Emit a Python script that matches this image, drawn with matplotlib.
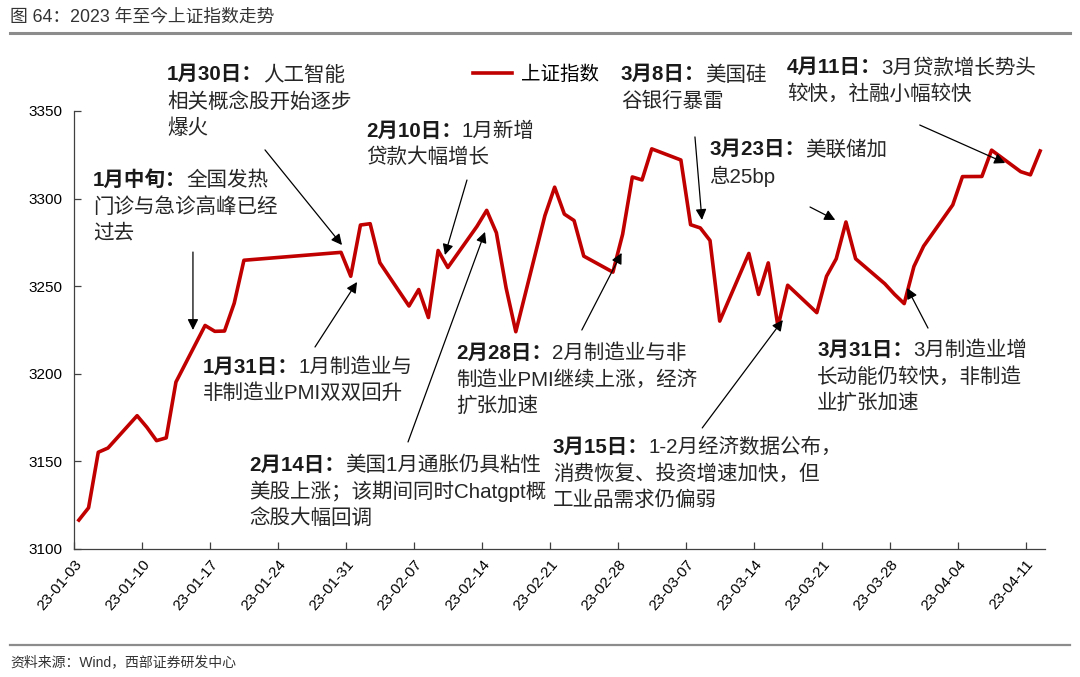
import matplotlib

matplotlib.use('Agg')
import matplotlib.pyplot as plt
from matplotlib.lines import Line2D
import numpy as np
import pandas as pd

plt.rcParams['font.family'] = ['Liberation Sans', 'Noto Sans CJK SC', 'DejaVu Sans']

# 上证指数收盘价
dates = [
    '2023-01-03', '2023-01-04', '2023-01-05', '2023-01-06', '2023-01-09', '2023-01-10',
    '2023-01-11', '2023-01-12', '2023-01-13', '2023-01-16', '2023-01-17', '2023-01-18',
    '2023-01-19', '2023-01-20', '2023-01-30', '2023-01-31',
    '2023-02-01', '2023-02-02', '2023-02-03', '2023-02-06', '2023-02-07', '2023-02-08',
    '2023-02-09', '2023-02-10', '2023-02-13', '2023-02-14', '2023-02-15', '2023-02-16',
    '2023-02-17', '2023-02-20', '2023-02-21', '2023-02-22', '2023-02-23', '2023-02-24',
    '2023-02-27', '2023-02-28',
    '2023-03-01', '2023-03-02', '2023-03-03', '2023-03-06', '2023-03-07', '2023-03-08',
    '2023-03-09', '2023-03-10', '2023-03-13', '2023-03-14', '2023-03-15', '2023-03-16',
    '2023-03-17', '2023-03-20', '2023-03-21', '2023-03-22', '2023-03-23', '2023-03-24',
    '2023-03-27', '2023-03-28', '2023-03-29', '2023-03-30', '2023-03-31',
    '2023-04-03', '2023-04-04', '2023-04-06', '2023-04-07', '2023-04-10', '2023-04-11',
    '2023-04-12',
]
close = [
    3116.51, 3123.52, 3155.22, 3157.64, 3176.08, 3169.51, 3161.84, 3163.45, 3195.31,
    3227.59, 3224.24, 3224.41, 3240.28, 3264.81, 3269.32, 3255.67,
    3284.92, 3285.67, 3263.41, 3238.70, 3248.09, 3232.11, 3270.38, 3260.67, 3284.16,
    3293.28, 3280.49, 3249.03, 3224.02, 3290.34, 3306.52, 3291.15, 3287.48, 3267.16,
    3258.03, 3279.61,
    3312.35, 3310.65, 3328.39, 3322.03, 3285.10, 3283.25, 3276.09, 3230.08, 3268.70,
    3245.31, 3263.31, 3226.89, 3250.55, 3234.91, 3255.65, 3265.65, 3286.65, 3265.65,
    3251.40, 3245.38, 3240.06, 3261.25, 3272.86,
    3296.40, 3312.56, 3312.63, 3327.65, 3315.36, 3313.57, 3327.18,
]

y_ticks = [3100, 3150, 3200, 3250, 3300, 3350]

# 注释：加粗前缀、首行其余文字、后续行
note_head = ['1月中旬：', '1月30日：', '1月31日：', '2月10日：', '2月14日：', '2月28日：',
             '3月8日：', '3月23日：', '3月15日：', '3月31日：', '4月11日：']
note_first = ['全国发热', '人工智能', '1月制造业与', '1月新增', '美国1月通胀仍具粘性',
              '2月制造业与非', '美国硅', '美联储加', '1-2月经济数据公布，',
              '3月制造业增', '3月贷款增长势头']
note_rest = [
    ['门诊与急诊高峰已经', '过去'],
    ['相关概念股开始逐步', '爆火'],
    ['非制造业PMI双双回升'],
    ['贷款大幅增长'],
    ['美股上涨；该期间同时Chatgpt概', '念股大幅回调'],
    ['制造业PMI继续上涨，经济', '扩张加速'],
    ['谷银行暴雷'],
    ['息25bp'],
    ['消费恢复、投资增速加快，但', '工业品需求仍偏弱'],
    ['长动能仍较快，非制造', '业扩张加速'],
    ['较快，社融小幅较快'],
]
# (天数, 指数) 位置
note_text = [(1.96, 3310.6), (9.58, 3370.6), (13.29, 3203.9), (30.07, 3338.6),
             (18.02, 3147.9), (39.34, 3211.9), (56.33, 3370.6), (65.4, 3327.8),
             (49.33, 3158.2), (76.52, 3213.6), (73.43, 3374.6)]
note_tail = [(12.25, 3269.5), (19.67, 3327.8), (24.82, 3215.3), (40.47, 3310.6),
             (34.4, 3161.1), (52.3, 3225.0), (63.95, 3335.2), (75.8, 3295.2),
             (64.7, 3169.1), (87.95, 3226.1), (87.1, 3342.0)]
note_tip = [(12.25, 3225.0), (27.6, 3273.5), (29.15, 3252.4), (38.2, 3267.8),
            (42.33, 3281.0), (56.4, 3269.0), (64.67, 3287.8), (78.4, 3287.8),
            (73.0, 3230.7), (85.8, 3249.0), (95.9, 3320.3)]

start = pd.Timestamp('2023-01-03')
x = (pd.to_datetime(dates) - start).days.values + 0.5
tick_days = np.arange(0, 99, 7)
tick_labels = [(start + pd.Timedelta(days=int(d))).strftime('%y-%m-%d') for d in tick_days]

fig = plt.figure(figsize=(10.8, 6.77), dpi=100)
ax = fig.add_axes([74 / 1080, 1 - 549 / 677, 971 / 1080, 438 / 677])

line, = ax.plot(x, close, color='#C00000', lw=2.6, label='上证指数', zorder=3)

ax.set_xlim(0, 100)
ax.set_ylim(3100, 3350)
ax.set_yticks(y_ticks)
ax.set_xticks(tick_days)
ax.set_xticklabels(tick_labels, rotation=50, ha='right', rotation_mode='anchor',
                   fontsize=11)
ax.tick_params(axis='both', direction='in', length=5, color='#404040', width=0.9)
ax.tick_params(axis='y', labelsize=11, pad=8)
ax.tick_params(axis='x', pad=6)
for s in ['top', 'right']:
    ax.spines[s].set_visible(False)
for s in ['left', 'bottom']:
    ax.spines[s].set_color('#404040')
    ax.spines[s].set_linewidth(0.9)

ax.legend(handles=[line], loc='center left', bbox_to_anchor=(0.411, 1.082),
          frameon=False, fontsize=14, handlelength=2.0, handletextpad=0.45,
          borderpad=0, borderaxespad=0)

fs = 14.8
for i in range(len(note_head)):
    tx, ty = note_text[i]
    h = ax.annotate(note_head[i], xy=(tx, ty), va='center', ha='left', fontsize=fs,
                    fontweight='bold', color='#1a1a1a', annotation_clip=False)
    ax.annotate(note_first[i], xy=(1, 0.5), xycoords=h, va='center', ha='left',
                fontsize=fs, color='#262626')
    for j, txt in enumerate(note_rest[i]):
        ax.annotate(txt, xy=(tx, ty), xytext=(0, -(j + 1) * 19.2),
                    textcoords='offset points', va='center', ha='left', fontsize=fs,
                    color='#262626', annotation_clip=False)
    ax.annotate('', xy=note_tip[i], xytext=note_tail[i], annotation_clip=False,
                arrowprops=dict(arrowstyle='-|>', color='black', lw=0.9,
                                mutation_scale=16, shrinkA=0, shrinkB=0))

fig.text(10 / 1080, 1 - 17 / 677, '图 64：2023 年至今上证指数走势', fontsize=12.8,
         va='center', ha='left', color='#333333')
fig.add_artist(Line2D([10 / 1080, 1070 / 1080], [1 - 33 / 677] * 2, color='#8c8c8c', lw=2.2))
fig.add_artist(Line2D([10 / 1080, 1070 / 1080], [1 - 645 / 677] * 2, color='#8c8c8c', lw=1.6))
fig.text(10 / 1080, 1 - 662 / 677, '资料来源：Wind，西部证券研发中心', fontsize=10,
         va='center', ha='left', color='#333333')

fig.savefig('out.png', dpi=100)
